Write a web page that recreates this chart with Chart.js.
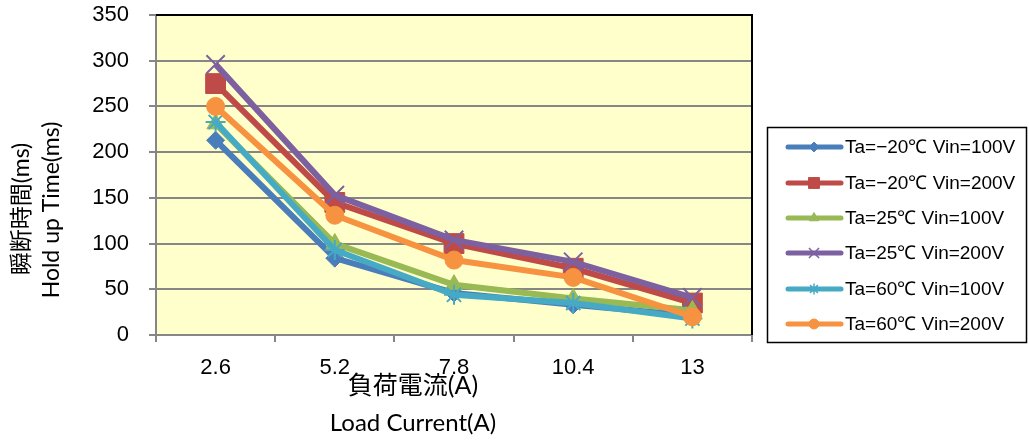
<!DOCTYPE html>
<html>
<head>
<meta charset="utf-8">
<script src="https://cdn.jsdelivr.net/npm/chart.js@4.4.0/dist/chart.umd.min.js"></script>
<style>
html,body{margin:0;padding:0;background:#fff;}
#wrap{width:1029px;height:441px;position:relative;}
</style>
</head>
<body>
<div id="wrap"><canvas id="c" width="1029" height="441"></canvas></div>
<script>
const categories = ['2.6', '5.2', '7.8', '10.4', '13'];
const yTicks = [0, 50, 100, 150, 200, 250, 300, 350];

const seriesNames = [
  'Ta=\u221220\u2103 Vin=100V',
  'Ta=\u221220\u2103 Vin=200V',
  'Ta=25\u2103 Vin=100V',
  'Ta=25\u2103 Vin=200V',
  'Ta=60\u2103 Vin=100V',
  'Ta=60\u2103 Vin=200V'
];
const m20_100 = [213, 84, 46, 33, 21];
const m20_200 = [275, 145, 100, 73, 35];
const p25_100 = [231, 100, 55, 40, 27];
const p25_200 = [296, 153, 104, 80, 41];
const p60_100 = [233, 93, 44, 35, 18];
const p60_200 = [250, 131, 82, 63, 20];

const seriesValues = [m20_100, m20_200, p25_100, p25_200, p60_100, p60_200];
const colors = ['#4A7EBB', '#BE4B48', '#98B954', '#7D60A0', '#46AAC5', '#F69240'];
const styles = ['rectRot', 'rect', 'triangle', 'crossRot', 'star', 'circle'];
const radii = [9, 14, 10, 13, 10, 9];

const datasets = seriesValues.map((vals, i) => ({
  label: seriesNames[i],
  data: vals,
  borderColor: colors[i],
  backgroundColor: colors[i],
  borderWidth: 6,
  pointStyle: styles[i],
  pointRadius: radii[i],
  pointBorderWidth: (styles[i] === 'crossRot' || styles[i] === 'star') ? 2 : 1,
  pointBorderColor: colors[i],
  pointBackgroundColor: colors[i],
  tension: 0,
  fill: false,
  order: seriesValues.length - i
}));

const FONT = "'Liberation Sans', Arial, sans-serif";
const TFONT = "Lato, 'Noto Sans CJK JP', sans-serif";

const bgPlugin = {
  id: 'bg',
  beforeDraw(chart) {
    const a = chart.chartArea, ctx = chart.ctx;
    ctx.save();
    ctx.fillStyle = '#FFFFCC';
    ctx.fillRect(a.left, a.top, a.right - a.left, a.bottom - a.top);
    ctx.restore();
  },
  afterDraw(chart) {
    const a = chart.chartArea, ctx = chart.ctx;
    ctx.save();
    ctx.strokeStyle = '#000';
    ctx.lineWidth = 2;
    ctx.beginPath();
    ctx.moveTo(a.left, a.top);
    ctx.lineTo(a.right, a.top);
    ctx.lineTo(a.right, a.bottom);
    ctx.stroke();

    // axis titles
    ctx.fillStyle = '#000';
    ctx.textAlign = 'center';
    ctx.textBaseline = 'middle';
    ctx.font = '25px ' + TFONT;
    ctx.fillText('\u8CA0\u8377\u96FB\u6D41(A)', 413, 386);
    ctx.font = '24px ' + TFONT;
    ctx.fillText('Load Current(A)', 413, 423);
    ctx.save();
    ctx.translate(22, 209);
    ctx.rotate(-Math.PI / 2);
    ctx.font = '23px ' + TFONT;
    ctx.fillText('\u77AC\u65AD\u6642\u9593(ms)', 0, 0);
    ctx.restore();
    ctx.save();
    ctx.translate(52, 210);
    ctx.rotate(-Math.PI / 2);
    ctx.font = '23px ' + TFONT;
    ctx.fillText('Hold up Time(ms)', 0, 0);
    ctx.restore();

    // legend
    const lx = 767, ly = 127, lw = 259, lh = 215;
    ctx.fillStyle = '#fff';
    ctx.fillRect(lx, ly, lw, lh);
    ctx.strokeStyle = '#000';
    ctx.lineWidth = 1.5;
    ctx.strokeRect(lx + 0.5, ly + 0.5, lw, lh);
    const rowY = [147, 183, 218, 253, 289, 324];
    seriesNames.forEach((name, i) => {
      const y = rowY[i];
      ctx.strokeStyle = colors[i];
      ctx.lineWidth = 5;
      ctx.lineCap = 'round';
      ctx.beginPath();
      ctx.moveTo(788, y);
      ctx.lineTo(841, y);
      ctx.stroke();
      ctx.lineCap = 'butt';
      ctx.fillStyle = colors[i];
      ctx.strokeStyle = colors[i];
      ctx.lineWidth = (styles[i] === 'crossRot' || styles[i] === 'star') ? 1.5 : 1;
      Chart.helpers.drawPoint(ctx, {pointStyle: styles[i], radius: radii[i] * 0.55, rotation: 0, borderWidth: ctx.lineWidth}, 814, y);
      ctx.fillStyle = '#000';
      ctx.textAlign = 'left';
      ctx.textBaseline = 'middle';
      ctx.font = '19px ' + FONT;
      ctx.fillText(name, 845, y + 1);
    });
    ctx.restore();
  }
};

new Chart(document.getElementById('c'), {
  type: 'line',
  data: { labels: categories, datasets },
  options: {
    responsive: false,
    animation: false,
    devicePixelRatio: 1,
    layout: { padding: { left: 0, top: 14, right: 277, bottom: 0 } },
    plugins: { legend: { display: false }, tooltip: { enabled: false } },
    scales: {
      x: {
        type: 'category',
        offset: true,
        afterFit(s) { s.height = 106; s.paddingLeft = 0; s.paddingRight = 0; },
        grid: { offset: true, drawOnChartArea: false, color: '#868686', lineWidth: 2, tickLength: 7 },
        border: { display: true, color: '#868686', width: 2 },
        ticks: { color: '#000', font: { family: FONT, size: 22 }, padding: 13, maxRotation: 0 }
      },
      y: {
        min: 0, max: 350,
        afterFit(s) { s.width = 156; s.paddingTop = 0; s.paddingBottom = 0; },
        afterBuildTicks(s) { s.ticks = yTicks.map(v => ({ value: v })); },
        grid: { color: '#868686', lineWidth: 2, tickLength: 7 },
        border: { display: true, color: '#868686', width: 2 },
        ticks: { color: '#000', font: { family: FONT, size: 22 }, padding: 20 }
      }
    }
  },
  plugins: [bgPlugin]
});
</script>
</body>
</html>
